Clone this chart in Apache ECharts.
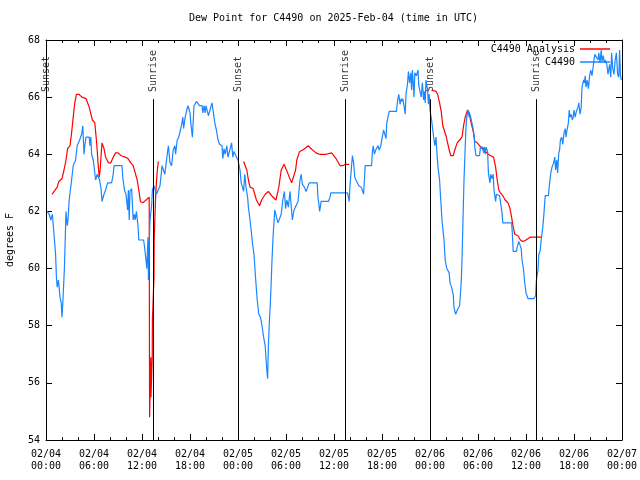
<!DOCTYPE html>
<html><head><meta charset="utf-8">
<script src="https://cdn.jsdelivr.net/npm/echarts@6/dist/echarts.min.js"></script>
<style>html,body{margin:0;padding:0;background:#fff}#c{width:640px;height:480px}</style>
</head><body><div id="c"></div>
<script>
const xTickLabels = ['02/04\n00:00','02/04\n06:00','02/04\n12:00','02/04\n18:00','02/05\n00:00','02/05\n06:00','02/05\n12:00','02/05\n18:00','02/06\n00:00','02/06\n06:00','02/06\n12:00','02/06\n18:00','02/07\n00:00'];
const yTicks = [54,56,58,60,62,64,66,68];

// hours since 02/04 00:00 UTC
const obsT = [0.15,0.4,0.6,0.8,1.0,1.2,1.3,1.4,1.55,1.75,1.9,2.0,2.1,2.3,2.45,2.5,2.65,2.75,2.9,3.2,3.4,3.7,3.9,4.2,4.45,4.6,4.75,4.85,5.0,5.2,5.4,5.5,5.6,5.7,5.9,6.0,6.2,6.4,6.5,6.7,6.9,7.0,7.25,7.45,7.7,8.2,8.4,8.5,9.5,9.6,9.8,10.0,10.2,10.3,10.4,10.5,10.7,10.8,10.9,11.05,11.15,11.3,11.5,11.6,12.2,12.3,12.5,12.6,12.75,12.8,12.9,13.0,13.2,13.3,13.5,13.65,13.8,14.0,14.25,14.4,14.5,14.75,14.85,15.2,15.3,15.5,15.7,15.9,16.1,16.2,16.4,16.6,16.8,17.0,17.1,17.2,17.4,17.6,17.75,17.9,18.0,18.1,18.3,18.5,18.6,18.8,19.0,19.2,19.5,19.6,19.75,19.9,20.0,20.3,20.5,20.75,20.85,21.1,21.3,21.5,21.7,22.0,22.1,22.25,22.4,22.6,22.75,23.0,23.2,23.35,23.5,23.8,24.0,24.25,24.4,24.6,24.7,24.85,25.0,25.2,25.3,25.5,25.7,25.8,26.0,26.2,26.4,26.6,26.8,27.0,27.2,27.4,27.6,27.7,27.8,27.9,28.1,28.25,28.4,28.6,28.8,29.0,29.2,29.4,29.6,29.8,29.95,30.1,30.3,30.5,30.65,30.8,31.0,31.25,31.5,31.6,31.75,31.9,32.05,32.3,32.5,32.75,32.9,33.9,34.0,34.1,34.2,34.4,35.3,35.5,35.6,37.7,37.9,38.0,38.2,38.3,38.45,38.6,38.75,39.1,39.4,39.6,39.7,39.8,39.9,40.7,40.8,40.9,41.05,41.2,41.5,41.65,41.85,42.0,42.2,42.4,42.5,42.6,42.75,42.9,43.8,43.96,44.1,44.25,44.4,44.5,44.6,44.75,44.9,45.0,45.2,45.3,45.45,45.6,45.7,45.8,46.0,46.1,46.3,46.5,46.6,46.8,46.9,47.05,47.2,47.3,47.4,47.5,47.6,47.7,47.8,47.9,48.0,48.2,48.3,48.5,48.6,48.75,48.9,49.0,49.2,49.3,49.4,49.5,49.6,49.75,49.9,50.1,50.25,50.4,50.5,50.7,50.8,50.9,51.0,51.2,51.3,51.5,51.7,51.8,51.9,52.0,52.1,52.25,52.4,52.5,52.6,52.75,52.9,53.0,53.2,53.35,53.5,53.6,53.75,54.2,54.3,54.6,54.7,54.8,54.9,55.0,55.2,55.3,55.5,55.6,55.75,55.9,56.0,56.2,56.3,56.7,56.9,57.0,57.1,58.2,58.3,58.4,58.8,58.9,59.1,59.3,59.4,59.5,59.7,59.8,60.0,60.25,61.0,61.2,61.3,61.5,61.6,61.75,61.9,62.1,62.25,62.4,62.8,62.95,63.1,63.25,63.45,63.6,63.7,63.85,63.95,64.1,64.2,64.3,64.45,64.6,64.75,64.9,65.0,65.1,65.3,65.4,65.5,65.65,65.8,65.9,66.0,66.15,66.3,66.5,66.6,66.75,66.9,67.0,67.2,67.3,67.4,67.5,67.65,67.8,67.95,68.1,68.25,68.4,68.5,68.6,68.8,69.0,69.1,69.25,69.4,69.5,69.65,69.8,69.9,70.1,70.25,70.45,70.6,70.7,70.85,71.0,71.15,71.3,71.45,71.6,71.7,71.8,71.9];
const obsV = [62.0,61.9,61.7,61.9,61.2,60.5,59.7,59.35,59.6,59.0,58.8,58.3,58.8,60.0,61.5,62.0,61.5,61.7,62.4,63.1,63.6,63.8,64.3,64.5,64.7,65.0,64.0,64.3,64.6,64.6,64.6,64.3,64.6,64.0,63.8,63.6,63.1,63.3,63.3,63.1,62.75,62.35,62.6,62.75,63.0,63.0,63.3,63.6,63.6,63.2,62.75,62.6,62.05,62.75,61.7,62.7,62.8,62.8,61.7,61.9,61.7,62.0,61.5,61.0,61.0,60.8,60.3,60.0,61.1,59.6,60.8,61.7,62.2,62.75,62.9,62.9,62.6,62.6,62.9,63.3,63.6,63.6,63.3,64.1,64.3,63.7,63.6,64.15,64.3,64.0,64.5,64.6,64.85,65.1,65.3,64.9,65.3,65.55,65.7,65.7,65.45,65.1,64.6,65.7,65.7,65.85,65.9,65.7,65.7,65.45,65.7,65.45,65.7,65.35,65.35,65.8,65.6,65.1,64.85,64.5,64.35,64.3,63.85,64.2,64.0,64.3,63.9,63.9,64.4,63.9,64.1,63.9,63.8,63.45,63.0,63.0,62.7,63.3,62.85,62.5,62.15,61.7,61.2,60.9,60.5,59.65,58.9,58.4,58.3,58.0,57.6,57.3,56.45,56.15,57.3,58.0,59.15,60.3,61.2,62.05,61.8,61.6,61.6,61.9,62.4,62.7,62.1,62.4,62.15,62.7,62.2,61.7,62.05,62.05,62.35,62.35,63.1,63.3,62.95,62.85,62.7,62.7,63.0,63.0,62.45,62.3,62.0,62.35,62.35,62.5,62.65,62.65,62.35,62.9,63.6,63.95,63.7,63.2,63.1,62.9,62.85,62.7,62.6,63.1,63.6,63.6,64.1,64.3,64.0,64.15,64.3,64.15,64.3,64.55,64.85,64.85,64.55,65.1,65.3,65.5,65.5,65.9,66.1,65.75,65.95,65.85,65.95,65.7,65.4,66.1,66.5,66.9,66.5,66.85,66.25,66.95,66.0,66.85,66.75,66.95,66.4,66.45,66.0,66.5,65.9,66.2,65.8,66.6,66.6,66.25,65.75,66.1,65.55,65.2,64.95,64.5,64.3,64.6,63.9,63.55,63.1,62.6,62.15,61.7,61.4,61.0,60.3,60.0,60.0,59.85,59.5,59.35,59.2,59.1,58.65,58.4,58.4,58.6,58.7,59.1,59.5,60.3,61.45,63.1,64.25,64.95,65.3,65.55,65.3,65.4,65.15,64.95,64.7,64.25,63.95,63.95,64.25,64.25,64.05,64.25,64.0,64.25,64.1,63.35,63.0,63.3,63.15,63.3,62.75,62.35,62.6,62.55,62.55,61.95,61.6,61.6,61.2,60.6,60.6,60.75,60.95,61.0,60.7,60.3,59.95,59.6,59.15,58.95,58.95,59.05,59.6,59.95,60.5,60.6,61.0,61.45,61.95,62.55,62.55,63.0,63.35,63.55,63.7,63.9,63.45,63.8,63.35,64.05,64.15,64.5,64.6,64.35,64.75,64.9,64.6,64.8,65.1,65.55,65.3,65.4,65.2,65.3,65.55,65.3,65.5,65.65,65.8,65.4,65.65,66.35,66.6,66.5,66.75,66.35,66.6,66.3,66.75,66.95,66.75,66.8,67.3,67.5,67.55,67.3,67.55,67.2,67.65,67.25,67.45,67.2,67.3,67.15,66.8,67.15,66.7,67.55,67.0,66.8,67.3,67.55,66.8,66.7,67.65,66.8,66.6];

// analysis series (null = gap)
const anaT = [0.75,1.0,1.4,1.6,2.0,2.25,2.5,2.7,3.0,3.2,3.4,3.6,3.8,4.1,4.5,5.0,5.2,5.4,5.8,6.1,6.3,6.4,6.5,6.65,6.75,7.0,7.25,7.45,7.8,8.1,8.4,8.7,9.0,9.4,9.9,10.25,10.6,10.9,11.1,11.4,11.6,11.8,12.1,12.5,12.9,12.95,13.1,13.12,13.28,13.3,13.5,13.52,13.7,13.8,13.9,14.05,
  14.5,
  24.7,24.9,25.1,25.3,25.5,25.9,26.1,26.3,26.7,26.95,27.4,27.8,28.2,28.75,29.1,29.4,29.75,30.2,30.7,30.9,31.2,31.35,31.7,32.1,32.8,33.1,33.75,34.2,34.7,35.0,35.7,36.25,36.75,37.1,37.4,37.9,
  38.5,
  48.2,48.75,48.95,49.2,49.4,49.6,49.8,50.0,50.2,50.4,50.6,50.9,51.1,51.4,51.7,52.0,52.2,52.4,52.7,52.9,53.1,53.4,53.6,53.9,54.2,54.5,54.9,55.3,55.6,55.95,56.2,56.4,56.6,56.8,57.1,57.4,57.75,58.0,58.2,58.4,58.6,59.0,59.3,59.6,60.0,60.5,60.9,61.5,61.9];
const anaV = [62.6,62.6,62.85,63.05,63.15,63.45,63.8,64.2,64.3,64.75,65.3,65.8,66.1,66.1,66.0,65.95,65.9,65.65,65.2,65.1,64.5,64.15,63.7,63.2,63.4,64.4,64.2,63.9,63.7,63.7,63.9,64.05,64.05,63.95,63.9,63.85,63.7,63.6,63.4,63.1,62.75,62.35,62.3,62.4,62.5,54.8,56.9,55.5,56.9,58.2,59.7,61.0,62.5,63.0,63.4,63.75,
  null,
  63.75,63.8,63.45,63.1,62.85,62.8,62.6,62.4,62.2,62.4,62.6,62.7,62.55,62.4,62.85,63.45,63.65,63.35,63.0,63.05,63.45,63.8,64.1,64.15,64.3,64.2,64.05,64.0,64.0,64.0,64.05,63.85,63.6,63.6,63.65,63.65,
  null,
  66.25,66.2,66.1,65.8,65.5,65.0,64.95,64.65,64.4,64.15,63.95,63.95,64.15,64.4,64.5,64.6,65.0,65.3,65.55,65.45,65.15,64.8,64.45,64.4,64.3,64.2,64.1,64.0,63.95,63.9,63.55,63.1,62.75,62.65,62.55,62.4,62.3,62.1,61.8,61.45,61.2,61.15,61.0,60.95,61.0,61.1,61.1,61.1,61.1];

const sunT = [0.05, 13.42, 24.04, 37.4, 48.05, 61.3];
const sunNames = ['Sunset','Sunrise','Sunset','Sunrise','Sunset','Sunrise'];
const sunLineTop = 65.93;
const sunLabelY = 66.18;

const FONT = 'DejaVu Sans Mono';
const chart = echarts.init(document.getElementById('c'), null, {renderer:'canvas'});
const axisCommon = {
  min: 0, max: 72, interval: 6, type: 'value',
  axisLine: {show: true, onZero: false, lineStyle: {color: '#000', width: 1}},
  axisTick: {show: true, inside: true, length: 6, lineStyle: {color: '#000'}},
  minorTick: {show: true, splitNumber: 3, length: 3, lineStyle: {color: '#000'}},
  splitLine: {show: false}
};
const yCommon = {
  type: 'value', min: 54, max: 68, interval: 2,
  axisLine: {show: true, onZero: false, lineStyle: {color: '#000', width: 1}},
  axisTick: {show: true, inside: true, length: 6, lineStyle: {color: '#000'}},
  splitLine: {show: false}
};
const legendText = {fontFamily: FONT, fontSize: 10, color: '#000'};
chart.setOption({
  animation: false,
  backgroundColor: '#fff',
  title: {
    text: 'Dew Point for C4490 on 2025-Feb-04 (time in UTC)',
    left: 189, top: 13, padding: 0,
    textStyle: {fontFamily: FONT, fontSize: 10, fontWeight: 'normal', color: '#000'}
  },
  legend: [
    {data: [{name: 'C4490 Analysis', icon: 'rect'}], right: 30, top: 44, padding: 0, itemWidth: 30, itemHeight: 1.5,
      align: 'right', textStyle: legendText, selectedMode: false},
    {data: [{name: 'C4490', icon: 'rect'}], right: 30, top: 57, padding: 0, itemWidth: 30, itemHeight: 1.5,
      align: 'right', textStyle: legendText, selectedMode: false}
  ],
  grid: {left: 46, right: 18, top: 40, bottom: 40, containLabel: false, outerBoundsMode: 'none'},
  xAxis: [
    Object.assign({}, axisCommon, {position: 'bottom',
      axisLabel: {show: true, margin: 8, lineHeight: 12, fontFamily: FONT, fontSize: 10, color: '#000',
        formatter: v => xTickLabels[Math.round(v / 6)]}}),
    Object.assign({}, axisCommon, {position: 'top', axisLabel: {show: false}})
  ],
  yAxis: [
    Object.assign({}, yCommon, {position: 'left', name: 'degrees F', nameLocation: 'middle', nameRotate: 90, nameGap: 31,
      nameTextStyle: {fontFamily: FONT, fontSize: 10, color: '#000'},
      axisLabel: {show: true, margin: 6, fontFamily: FONT, fontSize: 10, color: '#000'}}),
    Object.assign({}, yCommon, {position: 'right', axisLabel: {show: false}})
  ],
  series: [
    {name: 'C4490 Analysis', type: 'line', symbol: 'none', showSymbol: false, connectNulls: false,
      lineStyle: {color: '#ff0000', width: 1.2}, itemStyle: {color: '#ff0000'},
      data: anaT.map((t, i) => [t, anaV[i]])},
    {name: 'C4490', type: 'line', symbol: 'none', showSymbol: false,
      lineStyle: {color: '#1a86ff', width: 1.2}, itemStyle: {color: '#1a86ff'},
      data: obsT.map((t, i) => [t, obsV[i]])},
    {name: 'sun', type: 'scatter', symbolSize: 0, silent: true,
      data: sunT.map((t, i) => ({value: [t, sunLabelY], name: sunNames[i]})),
      label: {show: true, position: 'inside', rotate: 90, align: 'left', verticalAlign: 'middle',
        formatter: p => p.name, fontFamily: FONT, fontSize: 10, color: '#000'},
      markLine: {silent: true, symbol: ['none', 'none'], label: {show: false},
        lineStyle: {color: '#000', width: 1, type: 'solid'},
        data: sunT.map(t => [{coord: [t, 54]}, {coord: [t, sunLineTop]}])}
    }
  ]
});
</script></body></html>
